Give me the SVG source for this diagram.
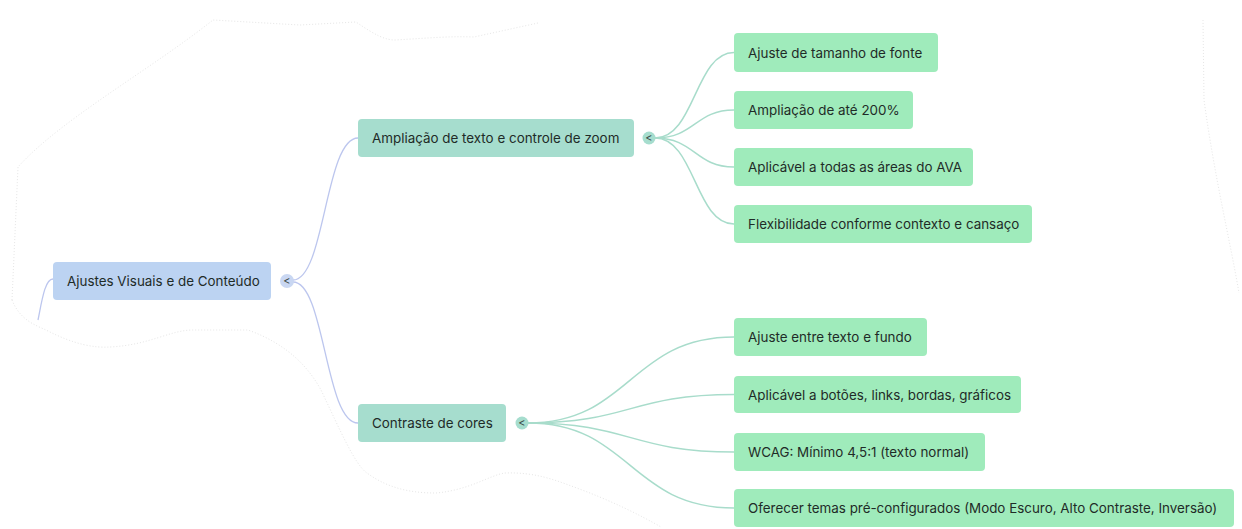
<svg xmlns="http://www.w3.org/2000/svg" width="1242" height="529" viewBox="0 0 1242 529">
<style>
text{font-family:Inter,"Noto Sans","Liberation Sans",sans-serif;font-size:13.4px;fill:#1f2b28;dominant-baseline:central}
.root rect{fill:#bcd3f2}
.mid rect{fill:#a6ddce}
.leaf rect{fill:#9febbb}
.c1{stroke:#bcc6ee;stroke-width:1.3;fill:none}
.c2{stroke:#a8dccb;stroke-width:1.5;fill:none}
.tog text{font-size:11px;text-anchor:middle;fill:#3a4a46}
.bg{stroke:#e6e6e6;stroke-width:1;fill:none;stroke-dasharray:1 2}
</style>
<rect width="1242" height="529" fill="#fff"/>
<path class="bg" d="M12 300 L18 167 C60 120 150 70 213 20 L300 25 L356 22 C375 35 385 40 395 40 C430 38 450 36 474 37 L538 23"/>
<path class="bg" d="M1203 20 L1204 100 C1215 180 1230 240 1239 293"/>
<path class="bg" d="M12 300 C20 320 35 325 46 330 C75 345 95 348 110 347 C150 345 170 330 193 330 L248 330 C290 345 310 370 321 390 C340 430 355 465 367 473 C390 490 415 493 436 493 C470 490 490 475 505 473 C535 472 555 480 574 487 C610 500 640 515 661 527"/>
<g id="connectors">
<path class="c1" d="M53 279 C45 279 42 300 38 320"/>
<path class="c1" d="M293 280 C325 280 325 138 358 138"/>
<path class="c1" d="M293 282 C325 282 325 423 358 423"/>
<path class="c2" d="M655 138 C695 138 695 52.5 734 52.5"/>
<path class="c2" d="M655 138 C695 138 695 110 734 110"/>
<path class="c2" d="M655 138 C695 138 695 167 734 167"/>
<path class="c2" d="M655 138 C695 138 695 224 734 224"/>
<path class="c2" d="M528 423 C630 423 630 337 734 337"/>
<path class="c2" d="M528 423 C630 423 630 394.5 734 394.5"/>
<path class="c2" d="M528 423 C630 423 630 452 734 452"/>
<path class="c2" d="M528 423 C630 423 630 508 734 508"/>
</g>
<g id="root" class="root">
<rect x="53" y="262" width="218" height="38" rx="4"/>
<text x="67" y="281">Ajustes Visuais e de Conteúdo</text>
<g class="tog"><circle cx="287" cy="281" r="7" fill="#c9d7f2"/><text x="287" y="281">&lt;</text></g>
</g>
<g id="n-ampliacao" class="mid">
<rect x="358" y="119" width="276" height="38" rx="4"/>
<text x="372" y="138">Ampliação de texto e controle de zoom</text>
<g class="tog"><circle cx="649" cy="138" r="6.5" fill="#a6ddce"/><text x="649" y="138">&lt;</text></g>
</g>
<g id="n-contraste" class="mid">
<rect x="358" y="404" width="148" height="38" rx="4"/>
<text x="372" y="423">Contraste de cores</text>
<g class="tog"><circle cx="522" cy="423" r="6.5" fill="#a6ddce"/><text x="522" y="423">&lt;</text></g>
</g>
<g id="l1" class="leaf"><rect x="734" y="33" width="204" height="39" rx="4"/><text x="748" y="52.5">Ajuste de tamanho de fonte</text></g>
<g id="l2" class="leaf"><rect x="734" y="91" width="179" height="38" rx="4"/><text x="748" y="110">Ampliação de até 200%</text></g>
<g id="l3" class="leaf"><rect x="734" y="148" width="239" height="38" rx="4"/><text x="748" y="167">Aplicável a todas as áreas do AVA</text></g>
<g id="l4" class="leaf"><rect x="734" y="205" width="298" height="38" rx="4"/><text x="748" y="224">Flexibilidade conforme contexto e cansaço</text></g>
<g id="l5" class="leaf"><rect x="734" y="318" width="193" height="38" rx="4"/><text x="748" y="337">Ajuste entre texto e fundo</text></g>
<g id="l6" class="leaf"><rect x="734" y="376" width="287" height="37" rx="4"/><text x="748" y="394.5">Aplicável a botões, links, bordas, gráficos</text></g>
<g id="l7" class="leaf"><rect x="734" y="433" width="251" height="38" rx="4"/><text x="748" y="452">WCAG: Mínimo 4,5:1 (texto normal)</text></g>
<g id="l8" class="leaf"><rect x="734" y="489" width="500" height="38" rx="4"/><text x="748" y="508">Oferecer temas pré-configurados (Modo Escuro, Alto Contraste, Inversão)</text></g>
</svg>
